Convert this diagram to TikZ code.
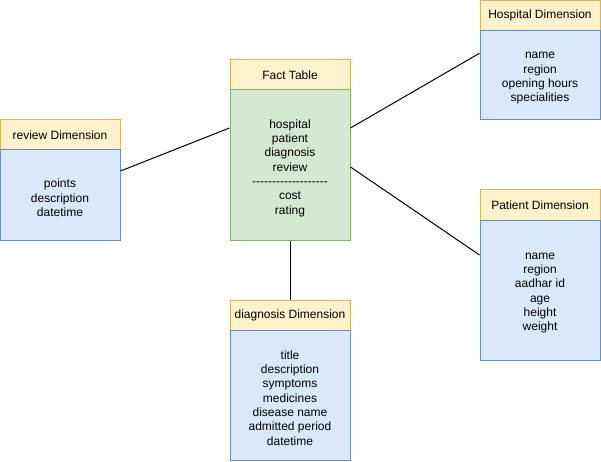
\documentclass[tikz,border=0pt]{standalone}
\usepackage{fontspec}
\setmainfont{Liberation Sans}
\begin{document}
\begin{tikzpicture}[x=1pt,y=-1pt,
  every node/.style={font=\fontsize{12}{14.3}\selectfont, align=center, inner sep=0pt, line width=1pt},
  hdr/.style={draw={rgb,255:red,214;green,182;blue,86}, fill={rgb,255:red,255;green,242;blue,204}, minimum width=120pt, minimum height=30pt},
  dimbody/.style={draw={rgb,255:red,108;green,142;blue,191}, fill={rgb,255:red,218;green,232;blue,252}, minimum width=120pt},
  factbody/.style={draw={rgb,255:red,130;green,179;blue,102}, fill={rgb,255:red,213;green,232;blue,212}, minimum width=120pt},
  bodytext/.style={yshift=-3pt},
  link/.style={draw=black, line width=1pt}]
\newcommand\hy{-\kern0pt}
\useasboundingbox (0,0) rectangle (601,462);
% Fact table
\node[hdr] (fh) at (290,75) {Fact Table};
\node[factbody, minimum height=150pt] (fb) at (290,165) {};
\node[bodytext] (fbt) at (fb.center) {hospital\\patient\\diagnosis\\review\\\hy\hy\hy\hy\hy\hy\hy\hy\hy\hy\hy\hy\hy\hy\hy\hy\hy\hy\hy\\cost\\rating};
% review
\node[hdr] (rh) at (60,135) {review Dimension};
\node[dimbody, minimum height=90pt] (rb) at (60,195) {};
\node[bodytext] (rbt) at (rb.center) {points\\description\\datetime};
% hospital
\node[hdr] (hh) at (540,15.5) {Hospital Dimension};
\node[dimbody, minimum height=89.5pt] (hb) at (540,75.25) {};
\node[bodytext] (hbt) at (hb.center) {name\\region\\opening hours\\specialities};
% patient
\node[hdr] (ph) at (540,205) {Patient Dimension};
\node[dimbody, minimum height=140pt] (pb) at (540,290) {};
\node[bodytext] (pbt) at (pb.center) {name\\region\\aadhar id\\age\\height\\weight};
% diagnosis
\node[hdr] (dh) at (290,315) {diagnosis Dimension};
\node[dimbody, minimum height=130pt] (db) at (290,395) {};
\node[bodytext] (dbt) at (db.center) {title\\description\\symptoms\\medicines\\disease name\\admitted period\\datetime};
% connectors
\draw[link] ([yshift=24pt]rb.east) -- ([yshift=37pt]fb.west);
\draw[link] ([yshift=37pt]fb.east) -- ([yshift=22pt]hb.west);
\draw[link] ([yshift=-2pt]fb.east) -- ([yshift=35pt]pb.west);
\draw[link] (fb.south) -- (dh.north);
\end{tikzpicture}
\end{document}
